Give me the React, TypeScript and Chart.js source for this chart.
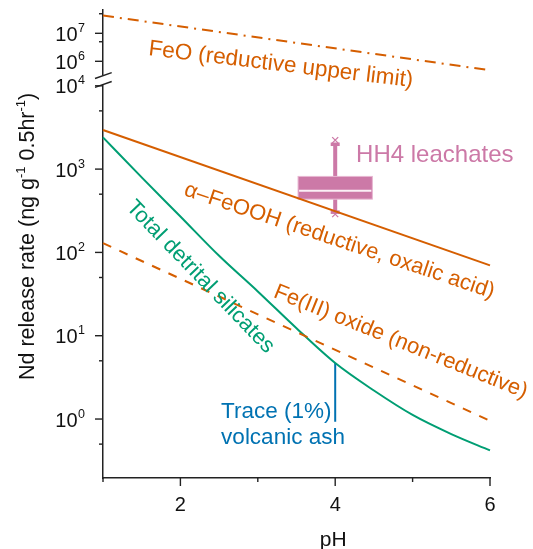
import React, { useEffect, useRef } from 'react';
import { Chart, registerables } from 'chart.js';

Chart.register(...registerables);

const FONT = '"Liberation Sans", Arial, Helvetica, sans-serif';
const ORANGE = '#D55E00';
const GREEN = '#009E73';
const BLUE = '#0072B2';
const PINK = '#CC79A7';
const AXIS = '#222222';
const TEXT = '#111111';

// ---- axes ----
const phMin = 1;
const phMax = 6;
const phMajorTicks = [2, 4, 6];
const phMinorTicks = [1, 3, 5];
const upperMin = 2.24e5;
const upperMax = 6.8e7;
const upperMajorTicks = [1e6, 1e7];
const upperMinorTicks = [5e6, 5e7];
const lowerMin = 0.196;
const lowerMax = 11900;
const lowerMajorTicks = [1, 10, 100, 1000, 10000];
const lowerMinorTicks = [0.5, 5, 50, 500, 5000];

// ---- series ----
const feoPH = [1, 6];
const feoRate = [4.3e7, 4.8e5];
const goethitePH = [1, 6];
const goethiteRate = [2950, 70];
const ferricPH = [1, 6];
const ferricRate = [129, 0.95];
const silicatePH = [1, 1.5, 2, 2.5, 3, 3.5, 4, 4.5, 5, 5.5, 6];
const silicateRate = [2400, 795, 270, 91, 34, 12.3, 4.7, 2.2, 1.12, 0.66, 0.42];
const ashPH = [4, 4];
const ashRate = [4.7, 0.93];

// ---- HH4 leachates box ----
const hh4PH = 4;
const hh4HalfWidth = 0.48;
const hh4Min = 288;
const hh4WhiskerLow = 302;
const hh4Q1 = 436;
const hh4Median = 549;
const hh4Q3 = 817;
const hh4WhiskerHigh = 2000;
const hh4Max = 2230;

// ---- annotation labels (anchor in data units, angle in degrees) ----
type Lbl = { text: string; x: number; y: number; axis: 'yUpper' | 'yLower'; angle: number; color: string; size: number };
const annotations: Lbl[] = [
  { text: 'FeO (reductive upper limit)', x: 1.58, y: 1.68e6, axis: 'yUpper', angle: 6.9, color: ORANGE, size: 22.5 },
  { text: 'α–FeOOH (reductive, oxalic acid)', x: 2.035, y: 488, axis: 'yLower', angle: 18.5, color: ORANGE, size: 22 },
  { text: 'Fe(III) oxide (non-reductive)', x: 3.19, y: 29.4, axis: 'yLower', angle: 22, color: ORANGE, size: 22 },
  { text: 'Total detrital silicates', x: 1.29, y: 340, axis: 'yLower', angle: 46, color: GREEN, size: 22 },
  { text: 'Trace (1%)', x: 2.526, y: 1.03, axis: 'yLower', angle: 0, color: BLUE, size: 22.5 },
  { text: 'volcanic ash', x: 2.526, y: 0.5, axis: 'yLower', angle: 0, color: BLUE, size: 22.5 },
  { text: 'HH4 leachates', x: 4.27, y: 1213, axis: 'yLower', angle: 0, color: PINK, size: 24 },
];

const zip = (xs: number[], ys: number[]) => xs.map((x, i) => ({ x, y: ys[i] }));

function drawParts(ctx: CanvasRenderingContext2D, parts: { t: string; sup?: boolean }[], x: number, y: number, size: number, supSize: number, rise: number) {
  let cx = x;
  for (const p of parts) {
    ctx.font = `${p.sup ? supSize : size}px ${FONT}`;
    ctx.fillText(p.t, cx, p.sup ? y - rise : y);
    cx += ctx.measureText(p.t).width;
  }
}

const decorPlugin = {
  id: 'decor',
  beforeDatasetsDraw(chart: any) {
    const ctx: CanvasRenderingContext2D = chart.ctx;
    const xs = chart.scales.x;
    const yL = chart.scales.yLower;
    const xc = xs.getPixelForValue(hh4PH);
    const x0 = xs.getPixelForValue(hh4PH - hh4HalfWidth);
    const x1 = xs.getPixelForValue(hh4PH + hh4HalfWidth);
    const yq1 = yL.getPixelForValue(hh4Q1);
    const yq3 = yL.getPixelForValue(hh4Q3);
    const ymed = yL.getPixelForValue(hh4Median);
    const ywl = yL.getPixelForValue(hh4WhiskerLow);
    const ywh = yL.getPixelForValue(hh4WhiskerHigh);
    const ymin = yL.getPixelForValue(hh4Min);
    const ymax = yL.getPixelForValue(hh4Max);
    ctx.save();
    ctx.strokeStyle = PINK;
    ctx.lineWidth = 4;
    ctx.beginPath();
    ctx.moveTo(xc, ywh);
    ctx.lineTo(xc, yq3);
    ctx.moveTo(xc, yq1);
    ctx.lineTo(xc, ywl);
    ctx.stroke();
    ctx.fillStyle = PINK;
    ctx.fillRect(xc - 4.5, ywh - 1.5, 9, 3.5);
    ctx.fillRect(xc - 4.5, ywl - 2, 9, 3.5);
    ctx.fillRect(x0, yq3, x1 - x0, yq1 - yq3);
    ctx.strokeStyle = '#E8B6D2';
    ctx.lineWidth = 1;
    ctx.strokeRect(x0, yq3, x1 - x0, yq1 - yq3);
    ctx.strokeStyle = '#FBEFF6';
    ctx.lineWidth = 2;
    ctx.beginPath();
    ctx.moveTo(x0 + 1, ymed);
    ctx.lineTo(x1 - 1, ymed);
    ctx.stroke();
    ctx.strokeStyle = PINK;
    ctx.lineWidth = 1.3;
    for (const ym of [ymax, ymin]) {
      ctx.beginPath();
      ctx.moveTo(xc - 3, ym - 3);
      ctx.lineTo(xc + 3, ym + 3);
      ctx.moveTo(xc + 3, ym - 3);
      ctx.lineTo(xc - 3, ym + 3);
      ctx.stroke();
    }
    ctx.restore();
  },
  afterDraw(chart: any) {
    const ctx: CanvasRenderingContext2D = chart.ctx;
    const { left, bottom } = chart.chartArea;
    const xs = chart.scales.x;
    const yU = chart.scales.yUpper;
    const yL = chart.scales.yLower;
    ctx.save();
    // axis break
    const b = yL.top;
    ctx.fillStyle = '#ffffff';
    ctx.fillRect(left - 3, b - 4, 6, 8.5);
    ctx.strokeStyle = AXIS;
    ctx.lineWidth = 1.4;
    ctx.beginPath();
    ctx.moveTo(left - 8, b - 1);
    ctx.lineTo(left + 8.7, b - 6.8);
    ctx.moveTo(left - 8, b + 7.8);
    ctx.lineTo(left + 8.7, b + 2);
    ctx.stroke();

    // y ticks
    ctx.lineWidth = 1.4;
    const yTick = (scale: any, v: number, len: number) => {
      const p = scale.getPixelForValue(v);
      ctx.beginPath();
      ctx.moveTo(left - len, p);
      ctx.lineTo(left, p);
      ctx.stroke();
      return p;
    };
    ctx.fillStyle = TEXT;
    ctx.textBaseline = 'alphabetic';
    ctx.textAlign = 'left';
    const yLabel = (p: number, exp: string) => {
      ctx.font = `20px ${FONT}`;
      const w1 = ctx.measureText('10').width;
      ctx.font = `12.5px ${FONT}`;
      const w2 = ctx.measureText(exp).width;
      const right = left - 18;
      ctx.font = `20px ${FONT}`;
      ctx.fillText('10', right - w2 - w1 - 0.5, p + 7.5);
      ctx.font = `12.5px ${FONT}`;
      ctx.fillText(exp, right - w2, p - 1.5);
    };
    for (const v of upperMajorTicks) yLabel(yTick(yU, v, 8), String(Math.round(Math.log10(v))));
    for (const v of upperMinorTicks) yTick(yU, v, 4);
    for (const v of lowerMajorTicks) yLabel(yTick(yL, v, 8), String(Math.round(Math.log10(v))));
    for (const v of lowerMinorTicks) yTick(yL, v, 4);

    // x ticks
    ctx.textAlign = 'center';
    ctx.font = `20px ${FONT}`;
    for (const v of phMajorTicks) {
      const p = xs.getPixelForValue(v);
      ctx.beginPath();
      ctx.moveTo(p, bottom);
      ctx.lineTo(p, bottom + 8);
      ctx.stroke();
      ctx.fillText(String(v), p, bottom + 33);
    }
    for (const v of phMinorTicks) {
      const p = xs.getPixelForValue(v);
      ctx.beginPath();
      ctx.moveTo(p, bottom);
      ctx.lineTo(p, bottom + 4);
      ctx.stroke();
    }
    // x title
    ctx.font = `21px ${FONT}`;
    ctx.fillText('pH', xs.getPixelForValue(4) - 2, bottom + 68);

    // y title
    ctx.save();
    ctx.translate(left - 69.5, bottom - 98);
    ctx.rotate(-Math.PI / 2);
    ctx.textAlign = 'left';
    drawParts(ctx, [
      { t: 'Nd release rate (ng g' }, { t: '-1', sup: true }, { t: ' 0.5hr' }, { t: '-1', sup: true }, { t: ')' },
    ], 0, 0, 21.5, 13, 8.5);
    ctx.restore();

    // annotations
    ctx.textAlign = 'left';
    for (const a of annotations) {
      const scale = a.axis === 'yUpper' ? yU : yL;
      const px = xs.getPixelForValue(a.x);
      const py = scale.getPixelForValue(a.y);
      ctx.save();
      ctx.translate(px, py);
      ctx.rotate((a.angle * Math.PI) / 180);
      ctx.fillStyle = a.color;
      ctx.font = `${a.size}px ${FONT}`;
      ctx.fillText(a.text, 0, 0);
      ctx.restore();
    }
    ctx.restore();
  },
};

export default function App() {
  const ref = useRef<HTMLCanvasElement | null>(null);
  useEffect(() => {
    if (!ref.current) return;
    const line = (data: any[], axis: string, color: string, extra: any = {}) => ({
      data,
      yAxisID: axis,
      borderColor: color,
      backgroundColor: color,
      borderWidth: 2,
      pointRadius: 0,
      fill: false,
      clip: 3,
      ...extra,
    });
    const axisCommon = {
      ticks: { display: false },
      grid: { display: false, drawTicks: false, tickLength: 0 },
      border: { display: true, color: AXIS, width: 1.5 },
    };
    const chart = new Chart(ref.current, {
      type: 'line',
      data: {
        datasets: [
          line(zip(feoPH, feoRate), 'yUpper', ORANGE, { borderDash: [11, 6, 2, 6] }),
          line(zip(goethitePH, goethiteRate), 'yLower', ORANGE),
          line(zip(ferricPH, ferricRate), 'yLower', ORANGE, { borderDash: [9, 9] }),
          line(zip(silicatePH, silicateRate), 'yLower', GREEN, { cubicInterpolationMode: 'monotone' }),
          line(zip(ashPH, ashRate), 'yLower', BLUE),
        ] as any,
      },
      options: {
        responsive: false,
        animation: false,
        devicePixelRatio: 1,
        parsing: false as any,
        normalized: true,
        layout: { padding: { left: 103, right: 43, top: 10, bottom: 71 } },
        plugins: { legend: { display: false }, tooltip: { enabled: false } },
        events: [],
        scales: {
          x: { type: 'linear', min: phMin, max: phMax, ...axisCommon } as any,
          yLower: { type: 'logarithmic', position: 'left', stack: 'y', stackWeight: 398.5, min: lowerMin, max: lowerMax, ...axisCommon } as any,
          yUpper: { type: 'logarithmic', position: 'left', stack: 'y', stackWeight: 69.5, min: upperMin, max: upperMax, ...axisCommon } as any,
        },
      },
      plugins: [decorPlugin],
    });
    return () => chart.destroy();
  }, []);
  return (
    <div style={{ position: 'fixed', left: 0, top: 0, width: 533, height: 549, background: '#fff' }}>
      <canvas ref={ref} width={533} height={549} style={{ display: 'block', width: 533, height: 549 }} />
    </div>
  );
}
